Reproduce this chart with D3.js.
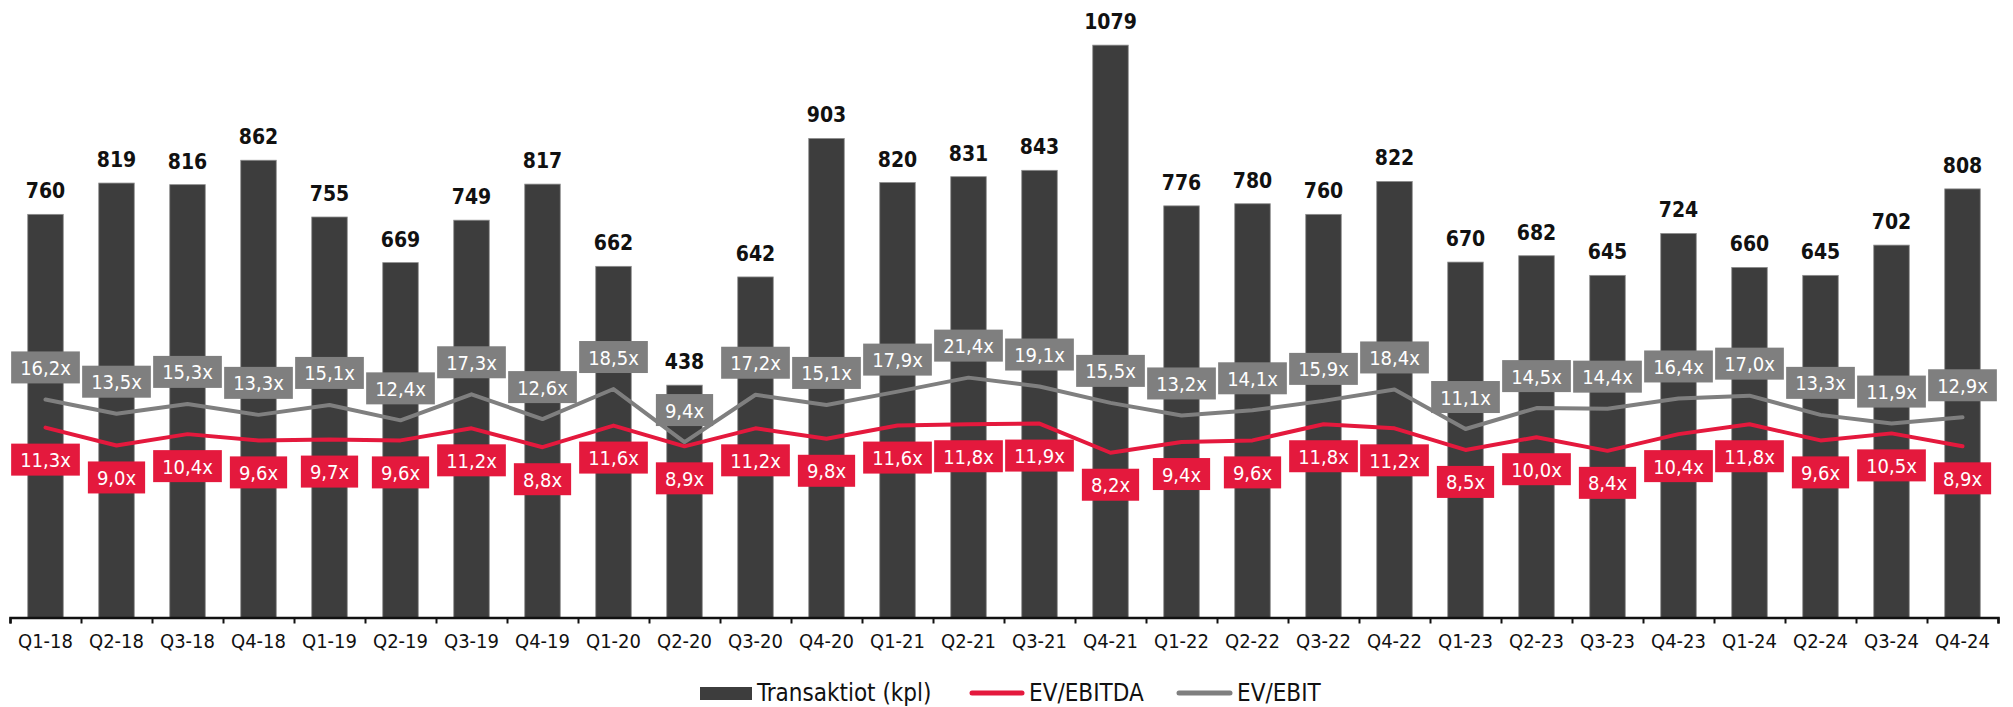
<!DOCTYPE html>
<html>
<head>
<meta charset="utf-8">
<script src="https://cdn.jsdelivr.net/npm/d3@7"></script>
<style>
  body { margin: 0; background: #fff; }
  svg text { font-family: "DejaVu Sans Condensed", "DejaVu Sans", sans-serif; font-stretch: condensed; }
</style>
</head>
<body>
<div id="chart"></div>
<script>
// data
var quarters = ["Q1-18","Q2-18","Q3-18","Q4-18","Q1-19","Q2-19","Q3-19","Q4-19",
  "Q1-20","Q2-20","Q3-20","Q4-20","Q1-21","Q2-21","Q3-21","Q4-21",
  "Q1-22","Q2-22","Q3-22","Q4-22","Q1-23","Q2-23","Q3-23","Q4-23",
  "Q1-24","Q2-24","Q3-24","Q4-24"];
var transactions = [760,819,816,862,755,669,749,817,662,438,642,903,820,831,843,1079,
  776,780,760,822,670,682,645,724,660,645,702,808];
var evEbitda = [11.3,9.0,10.4,9.6,9.7,9.6,11.2,8.8,11.6,8.9,11.2,9.8,11.6,11.8,11.9,8.2,
  9.4,9.6,11.8,11.2,8.5,10.0,8.4,10.4,11.8,9.6,10.5,8.9];
var evEbit = [16.2,13.5,15.3,13.3,15.1,12.4,17.3,12.6,18.5,9.4,17.2,15.1,17.9,21.4,19.1,15.5,
  13.2,14.1,15.9,18.4,11.1,14.5,14.4,16.4,17.0,13.3,11.9,12.9];

var svgWidth = 2013;
var svgHeight = 707;
var axisY = 617.5;

var barColor = "#3d3d3d";
var redColor = "#e4193d";
var grayColor = "#7f7f7f";

var svg = d3.select("#chart")
  .append("svg")
  .attr("width", svgWidth)
  .attr("height", svgHeight);

// scales
var xScale = d3.scaleBand()
  .domain(quarters)
  .range([10, 1998])
  .paddingInner(0.5)
  .paddingOuter(0.25);

var yBar = d3.scaleLinear()
  .domain([0, 1100])
  .range([axisY, 34]);

// secondary axis is logarithmic (hidden)
var yMult = d3.scaleLog()
  .domain([1, 10])
  .range([axisY, 437.2]);

var cx = function(i) { return xScale(quarters[i]) + xScale.bandwidth() / 2; };

// bars
svg.append("g").selectAll("rect")
  .data(transactions)
  .enter()
  .append("rect")
  .attr("x", (d, i) => xScale(quarters[i]))
  .attr("y", d => yBar(d))
  .attr("width", xScale.bandwidth())
  .attr("height", d => axisY - yBar(d))
  .attr("fill", barColor)
  .attr("stroke", "#8c8c8c")
  .attr("stroke-width", 0.8);

// bar value labels
svg.append("g").selectAll("text")
  .data(transactions)
  .enter()
  .append("text")
  .attr("x", (d, i) => cx(i))
  .attr("y", d => yBar(d) - 16)
  .attr("text-anchor", "middle")
  .attr("font-size", 21)
  .attr("font-weight", "bold")
  .attr("fill", "#111")
  .text(d => d);

// x axis
var xAxis = d3.axisBottom(d3.scaleLinear().domain([0, 28]).range([10, 1998]))
  .tickValues(d3.range(0, 29))
  .tickSize(6)
  .tickFormat("");

var axisG = svg.append("g")
  .attr("transform", `translate(0, ${axisY})`)
  .call(xAxis);
axisG.select(".domain").attr("stroke", "#111").attr("stroke-width", 2.5);
axisG.selectAll(".tick line").attr("stroke", "#111").attr("stroke-width", 2);

svg.append("g").selectAll("text")
  .data(quarters)
  .enter()
  .append("text")
  .attr("x", (d, i) => cx(i))
  .attr("y", 648)
  .attr("text-anchor", "middle")
  .attr("font-size", 20)
  .attr("fill", "#111")
  .text(d => d);

// lines
var lineGen = d3.line()
  .x((d, i) => cx(i))
  .y(d => yMult(d));

svg.append("path")
  .datum(evEbit)
  .attr("d", lineGen)
  .attr("fill", "none")
  .attr("stroke", grayColor)
  .attr("stroke-width", 4)
  .attr("stroke-linejoin", "round")
  .attr("stroke-linecap", "round");

svg.append("path")
  .datum(evEbitda)
  .attr("d", lineGen)
  .attr("fill", "none")
  .attr("stroke", redColor)
  .attr("stroke-width", 4)
  .attr("stroke-linejoin", "round")
  .attr("stroke-linecap", "round");

// boxed data labels
function fmt(v) { return v.toFixed(1).replace(".", ",") + "x"; }

function boxLabels(values, color, offset) {
  var g = svg.append("g");
  values.forEach(function(v, i) {
    var lg = g.append("g")
      .attr("transform", `translate(${cx(i)}, ${yMult(v) + offset})`);
    var rect = lg.append("rect").attr("fill", color);
    var t = lg.append("text")
      .attr("text-anchor", "middle")
      .attr("y", 7.5)
      .attr("font-size", 20)
      .attr("fill", "#fff")
      .text(fmt(v));
    var w = t.node().getComputedTextLength() + 18;
    rect.attr("x", -w / 2).attr("y", -16).attr("width", w).attr("height", 32);
  });
}
boxLabels(evEbit, grayColor, -32);
boxLabels(evEbitda, redColor, 32);

// legend
var legend = svg.append("g").attr("transform", "translate(0, 693)");
legend.append("rect")
  .attr("x", 700).attr("y", -6).attr("width", 52).attr("height", 13)
  .attr("fill", barColor);
legend.append("text")
  .attr("x", 757).attr("y", 8).attr("font-size", 24).attr("fill", "#111")
  .text("Transaktiot (kpl)");
legend.append("line")
  .attr("x1", 972).attr("x2", 1022).attr("y1", 0).attr("y2", 0)
  .attr("stroke", redColor).attr("stroke-width", 5).attr("stroke-linecap", "round");
legend.append("text")
  .attr("x", 1029).attr("y", 8).attr("font-size", 24).attr("fill", "#111")
  .text("EV/EBITDA");
legend.append("line")
  .attr("x1", 1179).attr("x2", 1230).attr("y1", 0).attr("y2", 0)
  .attr("stroke", grayColor).attr("stroke-width", 5).attr("stroke-linecap", "round");
legend.append("text")
  .attr("x", 1237).attr("y", 8).attr("font-size", 24).attr("fill", "#111")
  .text("EV/EBIT");
</script>
</body>
</html>
